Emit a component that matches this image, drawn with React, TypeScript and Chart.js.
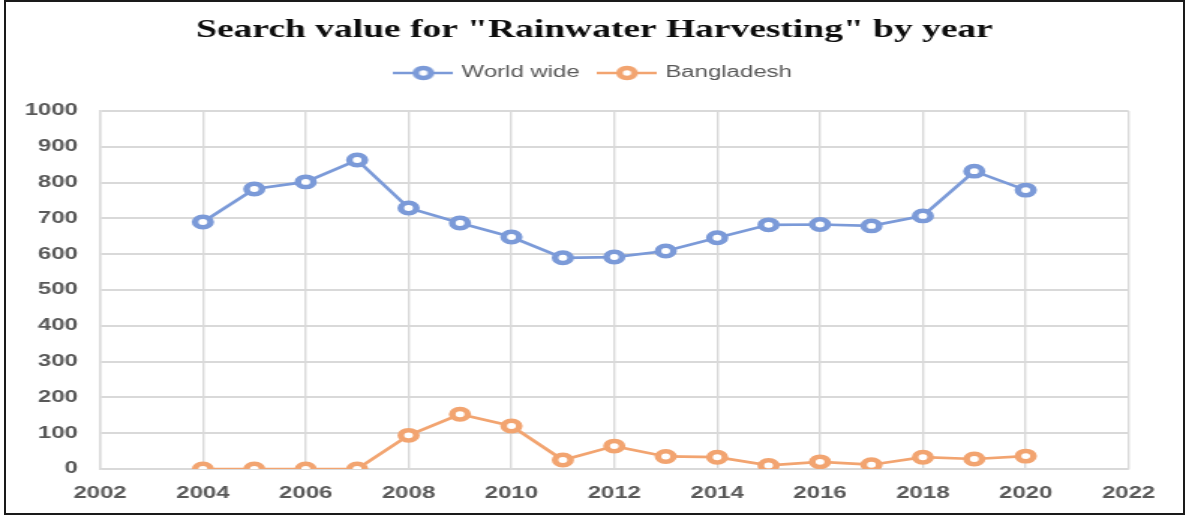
import React, { useEffect, useRef } from 'react';
import { Chart, registerables } from 'chart.js';

Chart.register(...registerables);

// ---- data ----
const years = [2004, 2005, 2006, 2007, 2008, 2009, 2010, 2011, 2012, 2013, 2014, 2015, 2016, 2017, 2018, 2019, 2020];
const worldWide = [690, 782, 802, 863, 729, 687, 648, 590, 592, 609, 646, 682, 683, 679, 707, 832, 779];
const bangladesh = [0, 0, 0, 0, 94, 153, 120, 25, 64, 35, 33, 10, 20, 12, 33, 28, 36];
const xTickValues = [2002, 2004, 2006, 2008, 2010, 2012, 2014, 2016, 2018, 2020, 2022];
const yTickValues = [0, 100, 200, 300, 400, 500, 600, 700, 800, 900, 1000];
const titleText = 'Search value for "Rainwater Harvesting" by year';
const seriesNames = ['World wide', 'Bangladesh'];
const seriesColors = ['#7b9ad8', '#f2a470'];

// ---- layout (logical canvas is stretched horizontally to the page width) ----
const W = 793;
const H = 517;
const SX = 1189 / W;
const LEGEND_EXTRA = 20;
const ICON_W = 40;

function legendIcon(color: string): HTMLCanvasElement {
  const c = document.createElement('canvas');
  c.width = ICON_W;
  c.height = 16;
  const g = c.getContext('2d')!;
  g.strokeStyle = color;
  g.lineWidth = 2.5;
  g.beginPath();
  g.moveTo(0, 8);
  g.lineTo(ICON_W, 8);
  g.stroke();
  g.beginPath();
  g.arc(ICON_W / 2, 8, 5, 0, Math.PI * 2);
  g.fillStyle = '#ffffff';
  g.fill();
  g.lineWidth = 4.5;
  g.stroke();
  return c;
}

const legendSpacer = {
  id: 'legendSpacer',
  beforeUpdate(chart: any) {
    const lg = chart.legend;
    if (lg && !lg.__patched) {
      const orig = lg.fit;
      lg.fit = function (this: any) {
        orig.call(this);
        this.height += LEGEND_EXTRA;
      };
      lg.__patched = true;
    }
  },
};

const tickFont = { family: '"Liberation Sans", sans-serif', size: 16, weight: 'bold' as const };

export default function App() {
  const ref = useRef<HTMLCanvasElement>(null);

  useEffect(() => {
    const icons = seriesColors.map((c) => legendIcon(c));
    const series = [worldWide, bangladesh];
    const chart = new Chart(ref.current!, {
      type: 'line',
      data: {
        datasets: series.map((vals, i) => ({
          label: seriesNames[i],
          data: years.map((y, j) => ({ x: y, y: vals[j] })),
          borderColor: seriesColors[i],
          backgroundColor: seriesColors[i],
          borderWidth: 2.7,
          pointRadius: 5.2,
          pointHoverRadius: 5.2,
          pointBorderWidth: 4.5,
          pointBackgroundColor: '#ffffff',
          pointBorderColor: seriesColors[i],
          tension: 0,
          yAxisID: 'y',
          xAxisID: 'x',
        })),
      },
      options: {
        animation: false,
        responsive: false,
        devicePixelRatio: 1,
        layout: { padding: 0 },
        plugins: {
          title: {
            display: true,
            text: titleText,
            color: '#0d0d0d',
            font: { family: '"Liberation Serif", serif', size: 25, weight: 'bold' },
            padding: { top: 15.6, bottom: 5.4 },
          },
          legend: {
            display: true,
            position: 'top',
            labels: {
              usePointStyle: true,
              pointStyleWidth: 35,
              boxHeight: 16,
              padding: 14,
              color: '#595959',
              font: { family: '"Liberation Sans", sans-serif', size: 16 },
              generateLabels: (ch: any) => {
                const base = (Chart.defaults.plugins.legend.labels as any).generateLabels(ch);
                return base.map((it: any, i: number) => ({ ...it, pointStyle: icons[i] }));
              },
            },
          },
          tooltip: { enabled: false },
        },
        scales: {
          x: {
            type: 'linear',
            min: 2002,
            max: 2022,
            afterBuildTicks: (s: any) => {
              s.ticks = xTickValues.map((v) => ({ value: v }));
            },
            afterFit: (s: any) => {
              s.height = 48;
            },
            grid: { color: '#d9d9d9', lineWidth: 1.4, drawTicks: false },
            border: { color: '#d9d9d9', width: 1.4 },
            ticks: {
              padding: 15,
              color: '#595959',
              font: tickFont,
              callback: (v: any) => String(v),
              maxRotation: 0,
            },
          },
          y: {
            type: 'linear',
            position: 'left',
            min: 0,
            max: 1000,
            afterBuildTicks: (s: any) => {
              s.ticks = yTickValues.map((v) => ({ value: v }));
            },
            afterFit: (s: any) => {
              s.width = 66.7;
            },
            grid: { color: '#d9d9d9', lineWidth: 2, drawTicks: false },
            border: { color: '#d9d9d9', width: 1.4 },
            ticks: {
              padding: 14.7,
              color: '#595959',
              font: tickFont,
              callback: (v: any) => String(v),
            },
          },
          spacerRight: {
            type: 'linear',
            position: 'right',
            display: true,
            min: 0,
            max: 1,
            grid: { display: false, drawTicks: false },
            border: { display: false },
            ticks: { display: false },
            afterFit: (s: any) => {
              s.width = W - 752.7;
            },
          },
        },
      },
      plugins: [legendSpacer],
    } as any);
    return () => chart.destroy();
  }, []);

  return (
    <div style={{ position: 'fixed', left: 0, top: 0, width: 1189, height: 517, background: '#ffffff', overflow: 'hidden' }}>
      <div style={{ position: 'absolute', left: 0, top: 0, width: W, height: H, transform: `scaleX(${SX})`, transformOrigin: '0 0' }}>
        <canvas ref={ref} width={W} height={H} style={{ display: 'block', width: W, height: H }} />
      </div>
      <div
        style={{
          position: 'absolute',
          left: 4,
          top: 0,
          width: 1181,
          height: 515,
          border: '2px solid #1a1a1a',
          boxSizing: 'border-box',
          pointerEvents: 'none',
        }}
      />
    </div>
  );
}
